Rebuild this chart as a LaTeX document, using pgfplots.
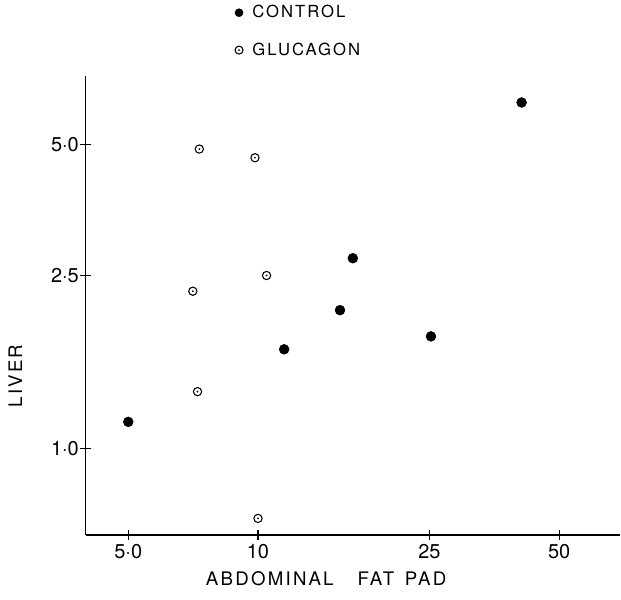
\documentclass[border=0pt]{standalone}
\usepackage{pgfplots}
\pgfplotsset{compat=1.18}
\usepackage{fontspec}
\setmainfont{TeX Gyre Heros}[LetterSpace=12]
\newfontfamily\tickfont{TeX Gyre Heros}

\pgfdeclareplotmark{codot}{%
  \pgfpathcircle{\pgfpointorigin}{\pgfplotmarksize}\pgfusepathqstroke
  \pgfpathcircle{\pgfpointorigin}{0.24\pgfplotmarksize}\pgfusepathqfill}

\begin{document}
\begin{tikzpicture}
\useasboundingbox (-64.3pt,-48.75pt) rectangle (401.5pt,401.25pt);
\begin{axis}[
  scale only axis,
  width=400.7pt, height=344.25pt,
  xmode=log, ymode=log,
  xmin=3.984, xmax=69.17,
  ymin=0.6312, ymax=7.206,
  axis x line*=bottom, axis y line*=left,
  xtick pos=left, ytick pos=left,
  axis line style={-, line width=0.9pt},
  xtick={5,10,25,50}, xticklabels={5·0,10,25,50},
  ytick={1,2.5,5}, yticklabels={1·0,2·5,5·0},
  xminorticks=false, yminorticks=false,
  xtick align=center, ytick align=center,
  major tick length=8pt,
  every major tick/.append style={draw=black, line width=0.8pt},
  tick label style={font=\tickfont\fontsize{15}{17}\selectfont, inner sep=1pt},
  xticklabel style={yshift=-2pt},
  xlabel={ABDOMINAL\hspace{18pt}FAT\hspace{8pt}PAD},
  ylabel={LIVER},
  label style={font=\fontsize{14}{16}\selectfont},
  xlabel style={at={(axis description cs:0.45,0)}, anchor=center, yshift=-33pt},
  ylabel style={at={(axis description cs:-0.132,0.346)}, anchor=center},
  legend style={
    font=\fontsize{12.5}{15}\selectfont,
    at={(0.279,1.160)}, anchor=north west,
    draw=none, fill=none, inner sep=0pt,
    row sep=13.2pt, cells={anchor=west},
  },
  legend image code/.code={\draw[#1, mark size=3pt] plot coordinates {(0pt,0pt)};
    \path[draw=none, fill=none] (0pt,0pt) -- (8pt,0pt);},
]

% control
\addplot[only marks, mark=*, mark size=3.7pt, black] coordinates {
  (5.0,1.15) (11.5,1.69) (15.5,2.08) (16.6,2.74) (25.2,1.81) (40.9,6.26)
};
\addlegendentry{CONTROL}

% glucagon
\addplot[only marks, mark=codot, mark size=3.1pt, black, line width=0.8pt] coordinates {
  (7.31,4.89) (9.84,4.67) (7.06,2.30) (10.47,2.50) (7.24,1.35) (10.0,0.689)
};
\addlegendentry{GLUCAGON}

\end{axis}
\end{tikzpicture}
\end{document}
